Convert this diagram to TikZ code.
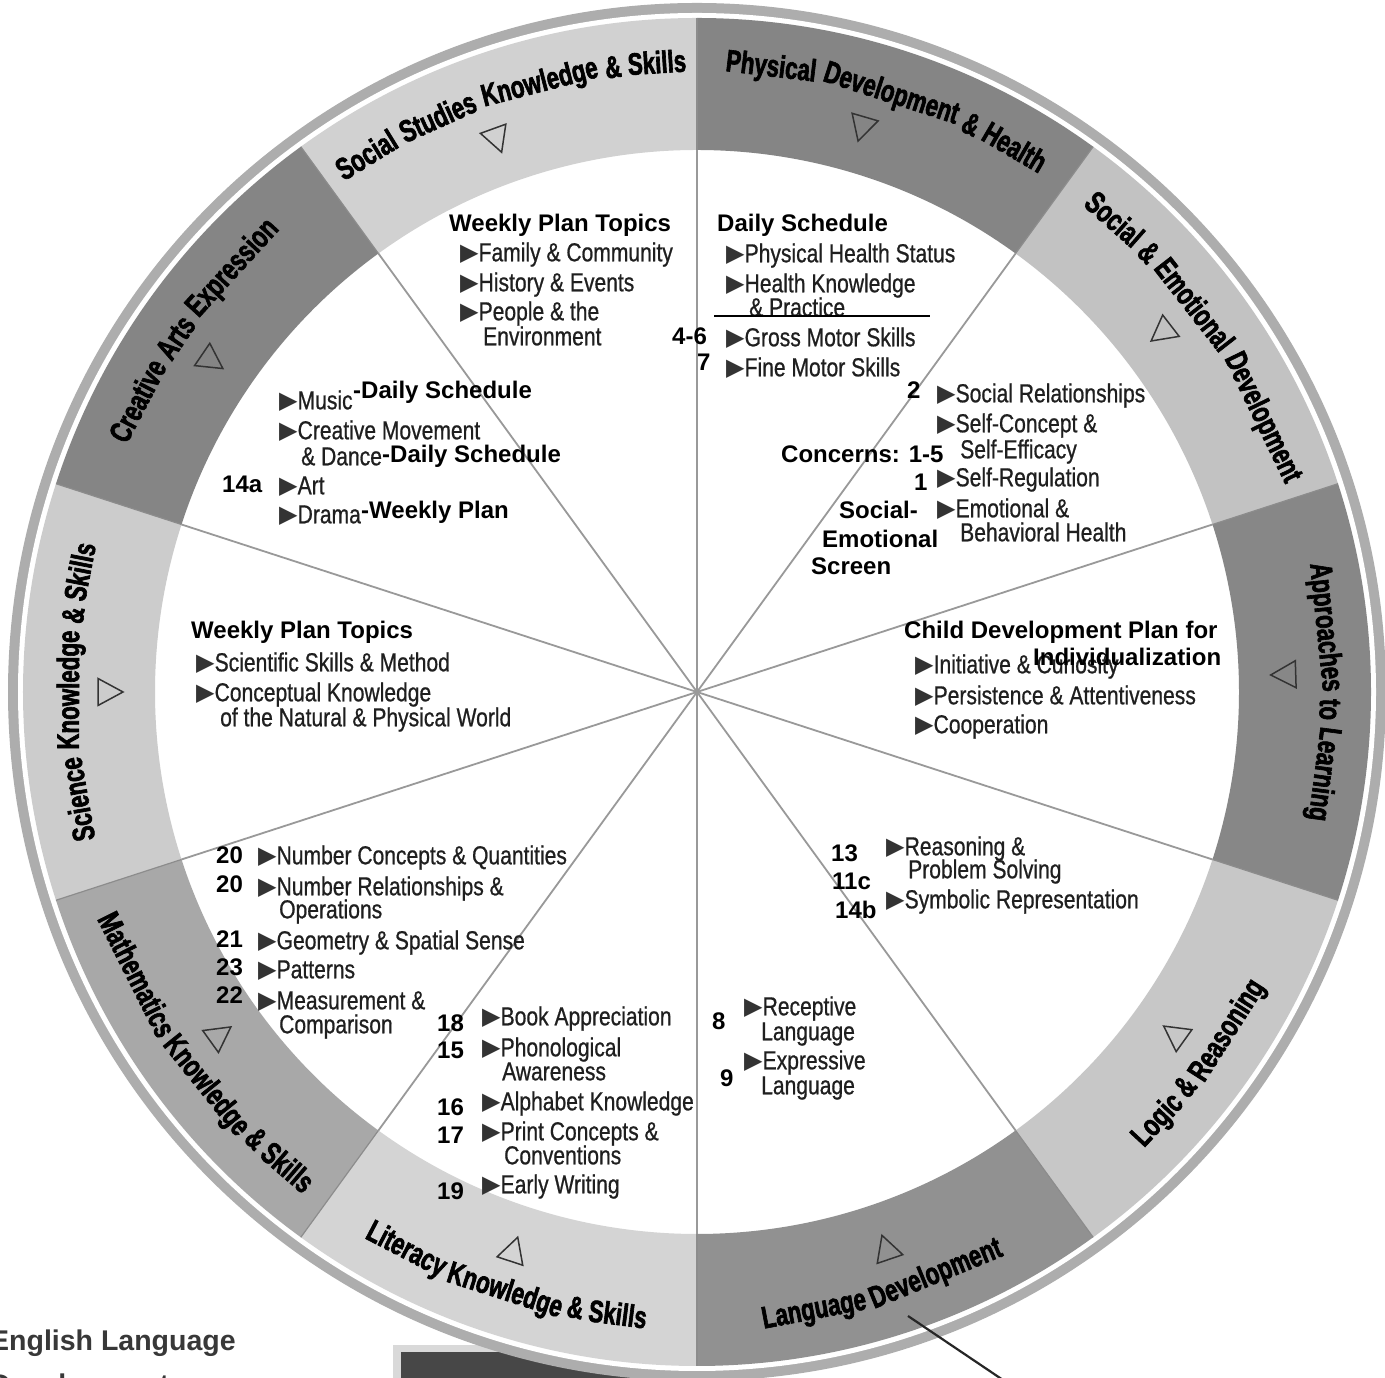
\documentclass[tikz,border=0pt]{standalone}
\usepackage{fontspec}
\setmainfont{Liberation Sans}
\newfontfamily\itemfont[FakeStretch=0.81,FakeBold=0.7]{Liberation Sans}
\newfontfamily\labfont[FakeStretch=0.72,FakeBold=2]{Liberation Sans Bold}
\newfontfamily\symfont{DejaVu Sans}
\newcommand\tri{{\symfont\fontsize{24}{24}\selectfont\raisebox{0.5pt}{\textcolor{black!80}{▶}}}}
\newcommand\labfmt{\labfont\fontsize{31}{31}\selectfont}
% #1 id, #2 centre angle, #3 baseline radius (pt), #4 direction (1 = tops in, -1 = tops out), #5 total width, #6 word/width list
\newcommand\arclabel[6]{%
  \pgfmathsetmacro\lwtmp{-0.5*#5}\xdef\lwposv{\lwtmp}%
  \foreach \w/\wdv [count=\i] in {#6}{%
    \pgfmathsetmacro\ang{#2+#4*(\lwposv+0.5*\wdv)/#3*57.29578}%
    \node[lab,rotate=\ang+#4*90] (#1\i) at (\ang:#3pt) {\w};
    \pgfmathsetmacro\lwtmp{\lwposv+\wdv+6.2}\xdef\lwposv{\lwtmp}%
  }%
}
\definecolor{segSS}{gray}{0.82}
\definecolor{segPH}{gray}{0.52}
\definecolor{segSE}{gray}{0.76}
\definecolor{segAP}{gray}{0.53}
\definecolor{segLG}{gray}{0.78}
\definecolor{segLA}{gray}{0.57}
\definecolor{segLI}{gray}{0.83}
\definecolor{segMA}{gray}{0.66}
\definecolor{segSC}{gray}{0.80}
\definecolor{segCA}{gray}{0.52}
\definecolor{rimcol}{gray}{0.68}
\tikzset{
  item/.style={anchor=west,inner sep=0pt,font=\itemfont\fontsize{26}{28}\selectfont,text=black!88,text height=18.6pt,text depth=0pt},
  ann/.style={anchor=west,inner sep=0pt,font=\bfseries\fontsize{24}{26}\selectfont,text=black,text height=17.2pt,text depth=0pt},
  lab/.style={anchor=base,inner sep=0pt,font=\labfmt,text=black},
  spoke/.style={draw=black!40,line width=1.8pt},
  bandline/.style={draw=black!45,line width=1.2pt},
  bandtri/.style={draw=black!80,line width=1.5pt,line join=miter},
}
\begin{document}
\begin{tikzpicture}[x=1pt,y=1pt]
\useasboundingbox (0,0) rectangle (1385,1378);
\fill[white] (0,0) rectangle (1385,1378);
% bottom-left fragments
\node[anchor=west,inner sep=0pt,font=\bfseries\fontsize{28.5}{30}\selectfont,text=black!78,text height=20.4pt,text depth=0pt] (eng1) at (-10,38) {English Language};
\node[anchor=west,inner sep=0pt,font=\bfseries\fontsize{28.5}{30}\selectfont,text=black!78,text height=20.4pt,text depth=0pt] (eng2) at (-10,-6) {Development};
\fill[black!15] (393,33) rectangle (760,-5);
\fill[black!72] (401,26) rectangle (760,-5);
% wheel
\begin{scope}[shift={(697,686)}]
  \fill[rimcol] (0,0) circle[radius=689pt];
  \fill[white] (0,0) circle[radius=679pt];
  \foreach \a/\b/\c in {90/126/segSS,54/90/segPH,18/54/segSE,-18/18/segAP,-54/-18/segLG,-90/-54/segLA,-126/-90/segLI,-162/-126/segMA,162/198/segSC,126/162/segCA}{
    \fill[\c] (\a:542pt) arc[start angle=\a,end angle=\b,radius=542pt] -- (\b:674pt) arc[start angle=\b,end angle=\a,radius=674pt] -- cycle;
  }
  \foreach \a in {90,54,18,-18,-54,-90,-126,-162,162,126}{
    \draw[spoke] (0,0) -- (\a:542pt);
    \draw[bandline] (\a:542pt) -- (\a:674pt);
  }
  \foreach \a in {109.9,73.7,37.7,1.7,-35.6,-71.2,-108.2,-144.3,180,145.7}{
    \draw[bandtri,rotate=\a] (574pt,0pt) -- (599pt,13.5pt) -- (599pt,-13.5pt) -- cycle;
  }
  \arclabel{ss}{107.8}{620}{-1}{364.66}{Social/65.75,Studies/80.62,Knowledge/119.05,\&/16.12,Skills/58.32}
  \arclabel{ph}{72}{620}{-1}{333.65}{Physical/90.57,Development/140.15,\&/16.12,Health/68.21}
  \arclabel{se}{35.5}{620}{-1}{348.51}{Social/65.75,\&/16.12,Emotional/107.89,Development/140.15}
  \arclabel{ap}{0}{623}{-1}{256.72}{Approaches/128.99,to/21.07,Learning/94.26}
  \arclabel{sc}{180}{618}{-1}{296.46}{Science/84.37,Knowledge/119.05,\&/16.12,Skills/58.32}
  \arclabel{ca}{144.3}{620}{-1}{265.44}{Creative/88.07,Arts/44.64,Expression/120.33}
  \arclabel{ma}{-143.7}{638}{1}{347.28}{Mathematics/135.19,Knowledge/119.05,\&/16.12,Skills/58.32}
  \arclabel{li}{-108}{638}{1}{297.69}{Literacy/85.6,Knowledge/119.05,\&/16.12,Skills/58.32}
  \arclabel{la}{-72.7}{638}{1}{251.77}{Language/105.42,Development/140.15}
  \arclabel{lo}{-36.5}{638}{1}{202.15}{Logic/59.53,\&/16.12,Reasoning/114.1}
\end{scope}
% pointer line
\coordinate (p1) at (908,62);
\coordinate (p2) at (1003,-2);
\draw[line width=2.2pt,black!85] (p1) -- (p2);
% Social Studies
\node[ann] (ss0) at (449,1155) {Weekly Plan Topics};
\node[item] (ss1) at (460,1126) {\tri Family \& Community};
\node[item] (ss2) at (460,1096) {\tri History \& Events};
\node[item] (ss3) at (460,1067) {\tri People \& the};
\node[item] (ss4) at (483,1042) {Environment};
% Physical
\node[ann] (ph0) at (717,1155) {Daily Schedule};
\node[item] (ph1) at (726,1125) {\tri Physical Health Status};
\node[item] (ph2) at (726,1095) {\tri Health Knowledge};
\node[item] (ph3) at (749,1071) {\& Practice};
\coordinate (ul1) at (714,1062);
\coordinate (ul2) at (930,1062);
\draw[line width=1.5pt,black] (ul1) -- (ul2);
\node[ann] (ph4n) at (672,1042) {4-6};
\node[item] (ph4) at (726,1041) {\tri Gross Motor Skills};
\node[ann] (ph5n) at (697,1016) {7};
\node[item] (ph5) at (726,1011) {\tri Fine Motor Skills};
% Social & Emotional
\node[ann] (se1n) at (907,988) {2};
\node[item] (se1) at (937,985) {\tri Social Relationships};
\node[item] (se2) at (937,955) {\tri Self-Concept \&};
\node[item] (se3) at (960,929) {Self-Efficacy};
\node[ann] (seC) at (781,924) {Concerns: 1-5};
\node[ann] (se4n) at (914,896) {1};
\node[item] (se4) at (937,901) {\tri Self-Regulation};
\node[ann] (seS1) at (839,868) {Social-};
\node[item] (se5) at (937,870) {\tri Emotional \&};
\node[ann] (seS2) at (822,839) {Emotional};
\node[item] (se6) at (960,846) {Behavioral Health};
\node[ann] (seS3) at (811,812) {Screen};
% Approaches
\node[ann] (ap0) at (904,748) {Child Development Plan for};
\node[item] (ap1) at (915,714) {\tri Initiative \& Curiosity};
\node[ann] (ap0b) at (1033,721) {Individualization};
\node[item] (ap2) at (915,683) {\tri Persistence \& Attentiveness};
\node[item] (ap3) at (915,654) {\tri Cooperation};
% Logic
\node[ann] (lg1n) at (831,525) {13};
\node[item] (lg1) at (886,532) {\tri Reasoning \&};
\node[item] (lg2) at (908,509) {Problem Solving};
\node[ann] (lg3n) at (832,497) {11c};
\node[item] (lg3) at (886,479) {\tri Symbolic Representation};
\node[ann] (lg4n) at (835,468) {14b};
% Language
\node[ann] (la1n) at (712,357) {8};
\node[item] (la1) at (744,372) {\tri Receptive};
\node[item] (la2) at (761,347) {Language};
\node[item] (la3) at (744,318) {\tri Expressive};
\node[ann] (la3n) at (720,300) {9};
\node[item] (la4) at (761,293) {Language};
% Literacy
\node[ann] (li1n) at (437,355) {18};
\node[item] (li1) at (482,362) {\tri Book Appreciation};
\node[ann] (li2n) at (437,328) {15};
\node[item] (li2) at (482,331) {\tri Phonological};
\node[item] (li3) at (502,307) {Awareness};
\node[ann] (li4n) at (437,271) {16};
\node[item] (li4) at (482,277) {\tri Alphabet Knowledge};
\node[ann] (li5n) at (437,243) {17};
\node[item] (li5) at (482,247) {\tri Print Concepts \&};
\node[item] (li6) at (504,223) {Conventions};
\node[ann] (li7n) at (437,187) {19};
\node[item] (li7) at (482,194) {\tri Early Writing};
% Mathematics
\node[ann] (m1n) at (216,523) {20};
\node[item] (m1) at (258,523) {\tri Number Concepts \& Quantities};
\node[ann] (m2n) at (216,494) {20};
\node[item] (m2) at (258,492) {\tri Number Relationships \&};
\node[item] (m3) at (279,469) {Operations};
\node[ann] (m4n) at (216,439) {21};
\node[item] (m4) at (258,438) {\tri Geometry \& Spatial Sense};
\node[ann] (m5n) at (216,411) {23};
\node[item] (m5) at (258,409) {\tri Patterns};
\node[ann] (m6n) at (216,383) {22};
\node[item] (m6) at (258,378) {\tri Measurement \&};
\node[item] (m7) at (279,354) {Comparison};
% Science
\node[ann] (sc0) at (191,748) {Weekly Plan Topics};
\node[item] (sc1) at (196,716) {\tri Scientific Skills \& Method};
\node[item] (sc2) at (196,686) {\tri Conceptual Knowledge};
\node[item] (sc3) at (220,661) {of the Natural \& Physical World};
% Creative Arts
\node[item] (ca1) at (279,978) {\tri Music};
\node[ann] (ca1a) at (353,988) {-Daily Schedule};
\node[item] (ca2) at (279,948) {\tri Creative Movement};
\node[item] (ca3) at (301,922) {\& Dance};
\node[ann] (ca3a) at (382,924) {-Daily Schedule};
\node[ann] (ca4n) at (222,894) {14a};
\node[item] (ca4) at (279,893) {\tri Art};
\node[item] (ca5) at (279,864) {\tri Drama};
\node[ann] (ca5a) at (361,868) {-Weekly Plan};
\end{tikzpicture}
\end{document}
